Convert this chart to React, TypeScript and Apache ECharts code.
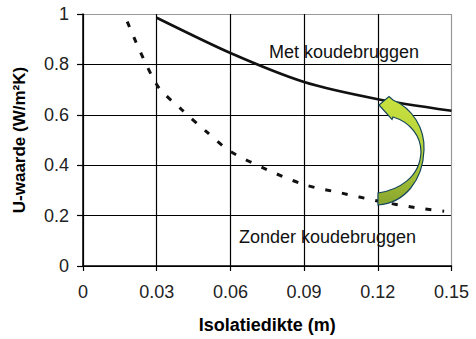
import React, { useEffect, useRef } from "react";
import * as echarts from "echarts";

const xTicks = [0, 0.03, 0.06, 0.09, 0.12, 0.15];
const yTicks = [0, 0.2, 0.4, 0.6, 0.8, 1];

const metX = [0.03, 0.06, 0.09, 0.12, 0.15];
const metU = [0.985, 0.845, 0.73, 0.662, 0.616];

const zonderX = [0.018, 0.03, 0.04, 0.05, 0.06, 0.075, 0.09, 0.105, 0.12, 0.135, 0.147];
const zonderU = [0.97, 0.72, 0.622, 0.535, 0.455, 0.382, 0.323, 0.29, 0.258, 0.232, 0.217];

const labelMet = "Met koudebruggen";
const labelZonder = "Zonder koudebruggen";
const xName = "Isolatiedikte (m)";
const yName = "U-waarde (W/m²K)";

const ARROW_D =
  "M 378 193 C 398 190 420 178 421 152 C 421 136 410 122 393 117 L 392 119.5 L 379 105 L 389 96.5 L 393 100 C 412 108 425 128 424 150 C 423 180 405 203 378 205 Z";

let registered = false;

export default function App() {
  const ref = useRef<HTMLDivElement>(null);
  useEffect(() => {
    if (!ref.current) return;
    if (!registered) {
      echarts.graphic.registerShape("uarrow", echarts.graphic.extendPath(ARROW_D, {}) as any);
      registered = true;
    }
    const chart = echarts.init(ref.current, undefined, { renderer: "svg" });
    const font = "'Liberation Sans', Arial, sans-serif";
    const fmt = (v: number) => String(+v.toFixed(2));
    chart.setOption({
      animation: false,
      backgroundColor: "#ffffff",
      grid: { left: 83, right: 24.5, top: 14, bottom: 70, containLabel: false },
      xAxis: {
        type: "value",
        min: xTicks[0],
        max: xTicks[xTicks.length - 1],
        interval: 0.03,
        name: xName,
        nameLocation: "middle",
        nameGap: 50,
        nameTextStyle: { fontFamily: font, fontSize: 18, fontWeight: "bold", color: "#000" },
        axisLine: { show: true, lineStyle: { color: "#000", width: 1.5 } },
        axisTick: { show: true, length: 5, lineStyle: { color: "#000", width: 1.2 } },
        axisLabel: { fontFamily: font, fontSize: 18, color: "#222", margin: 17, formatter: fmt },
        splitLine: {
          show: true,
          lineStyle: { color: ["#000", "#000", "#000", "#000", "#000", "#999"], width: 1.2 },
        },
      },
      yAxis: {
        type: "value",
        min: yTicks[0],
        max: yTicks[yTicks.length - 1],
        interval: 0.2,
        name: yName,
        nameLocation: "middle",
        nameGap: 55,
        nameTextStyle: { fontFamily: font, fontSize: 17, fontWeight: "bold", color: "#000" },
        axisLine: { show: true, lineStyle: { color: "#000", width: 1.5 } },
        axisTick: { show: true, length: 6, lineStyle: { color: "#000", width: 1.2 } },
        axisLabel: { fontFamily: font, fontSize: 18, color: "#222", margin: 14, formatter: fmt },
        splitLine: {
          show: true,
          lineStyle: { color: ["#000", "#000", "#000", "#000", "#000", "#999"], width: 1.2 },
        },
      },
      series: [
        {
          type: "line",
          name: labelMet,
          data: metX.map((x, i) => [x, metU[i]]),
          smooth: 0.25,
          showSymbol: false,
          lineStyle: { color: "#111", width: 2.6 },
          z: 5,
        },
        {
          type: "line",
          name: labelZonder,
          data: zonderX.map((x, i) => [x, zonderU[i]]),
          smooth: 0.3,
          showSymbol: false,
          lineStyle: { color: "#111", width: 3, type: [6, 11] },
          z: 5,
        },
      ],
      graphic: [
        {
          type: "text",
          x: 269,
          y: 52,
          z: 50,
          style: { text: labelMet, font: `18px ${font}`, fill: "#111", verticalAlign: "middle" },
        },
        {
          type: "text",
          x: 239,
          y: 237,
          z: 50,
          style: { text: labelZonder, font: `18px ${font}`, fill: "#111", verticalAlign: "middle" },
        },
        {
          type: "uarrow",
          x: 0,
          y: 0,
          z: 100,
          style: {
            fill: new echarts.graphic.LinearGradient(0, 0, 0, 1, [
              { offset: 0, color: "#c9e23f" },
              { offset: 0.55, color: "#b3cf3a" },
              { offset: 1, color: "#88a52f" },
            ]),
            stroke: "#14465a",
            lineWidth: 1.2,
          },
        },
      ],
    });
    return () => chart.dispose();
  }, []);
  return (
    <div
      ref={ref}
      style={{ position: "fixed", left: 0, top: 0, width: 476, height: 339 }}
    />
  );
}
